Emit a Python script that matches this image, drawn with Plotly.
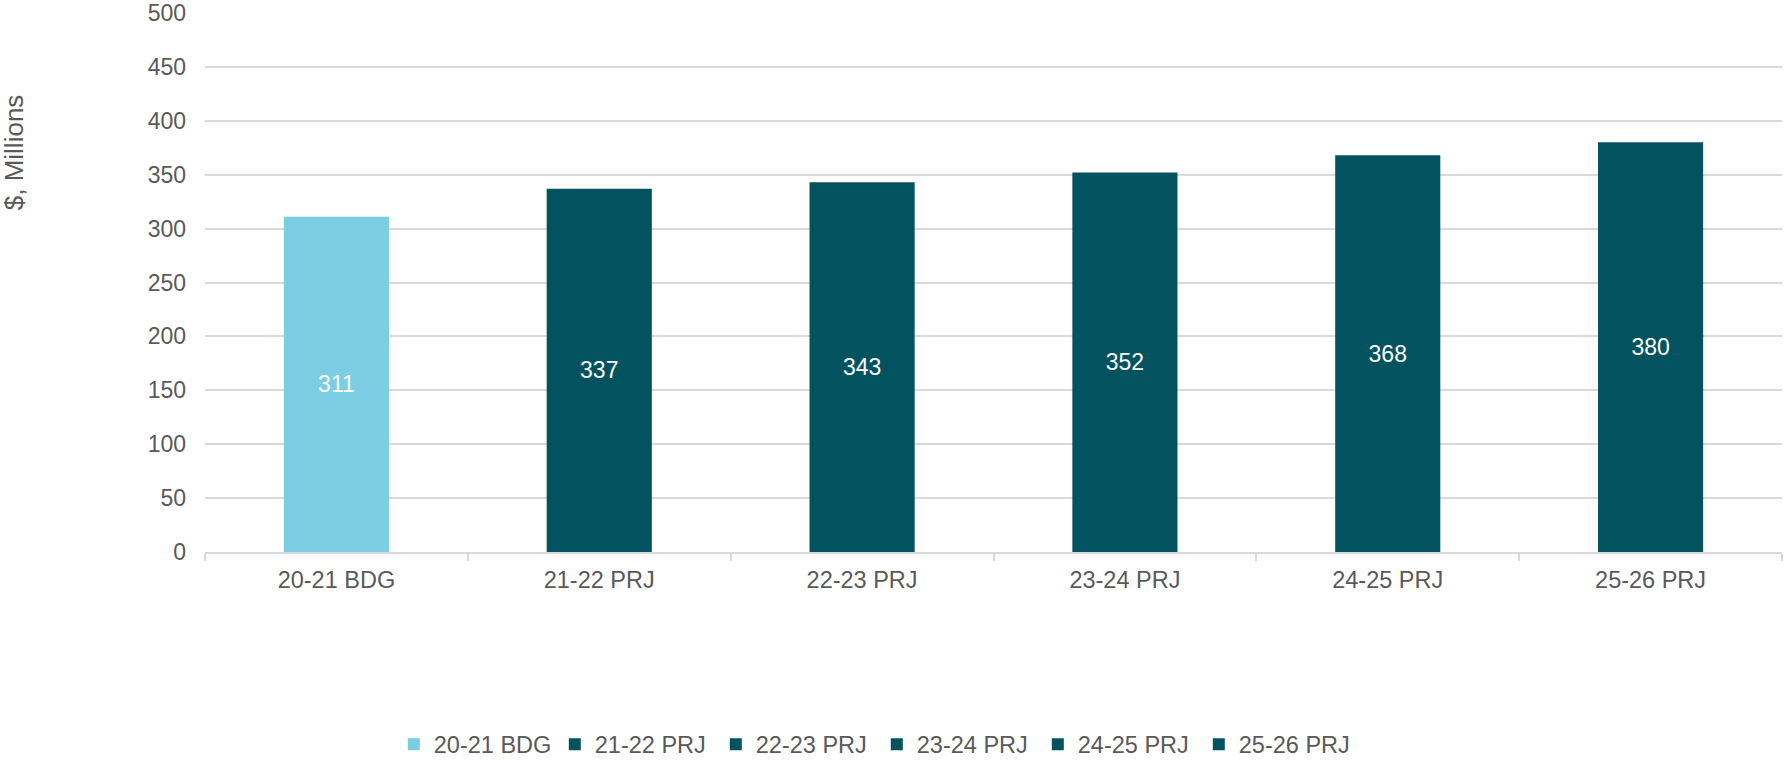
import plotly.graph_objects as go

categories = ["20-21 BDG", "21-22 PRJ", "22-23 PRJ", "23-24 PRJ", "24-25 PRJ", "25-26 PRJ"]
values = [311, 337, 343, 352, 368, 380]
colors = ["#7BCDE3", "#02535F", "#02535F", "#02535F", "#02535F", "#02535F"]
y_ticks = [0, 50, 100, 150, 200, 250, 300, 350, 400, 450, 500]

FONT = "Arial, 'Liberation Sans', sans-serif"
GRAY = "#595959"

fig = go.Figure()
for cat, val, col in zip(categories, values, colors):
    fig.add_trace(go.Bar(
        x=[cat], y=[val], name=cat,
        marker=dict(color=col, line=dict(width=0)),
        width=0.4,
        text=[str(val)], textposition="inside", insidetextanchor="middle",
        textfont=dict(color="white", size=23, family=FONT),
        textangle=0,
    ))

fig.update_layout(
    width=1785, height=760,
    barmode="overlay",
    paper_bgcolor="white", plot_bgcolor="white",
    margin=dict(l=205, r=3, t=12.5, b=207.5, autoexpand=False),
    font=dict(family=FONT, size=23, color=GRAY),
    showlegend=True,
    legend=dict(
        orientation="h", x=0.426, xanchor="center", y=-0.357, yanchor="middle",
        font=dict(size=23.5, color=GRAY, family=FONT),
        entrywidth=116, entrywidthmode="pixels",
        traceorder="normal",
    ),
    xaxis=dict(
        categoryorder="array", categoryarray=categories,
        showgrid=False, showline=True, linecolor="#D9D9D9", linewidth=1.5,
        ticks="outside", tickson="boundaries", ticklen=7, tickcolor="#D9D9D9", tickwidth=1.5,
        tickfont=dict(size=23.5, color=GRAY, family=FONT),
        ticklabelstandoff=6,
    ),
    yaxis=dict(
        range=[0, 500], tickvals=y_ticks,
        showgrid=True, gridcolor="#D9D9D9", gridwidth=1.5,
        showline=False, zeroline=False,
        tickfont=dict(size=23, color=GRAY, family=FONT),
        ticklabelstandoff=18,
    ),
    annotations=[dict(
        text="$, Millions", textangle=-90,
        xref="paper", yref="paper", x=-0.121, y=0.742,
        xanchor="center", yanchor="middle", showarrow=False,
        font=dict(size=26, color=GRAY, family=FONT),
    )],
)

fig.write_html("out.html", config={"displayModeBar": False},
               post_script="document.body.style.margin='0';")
